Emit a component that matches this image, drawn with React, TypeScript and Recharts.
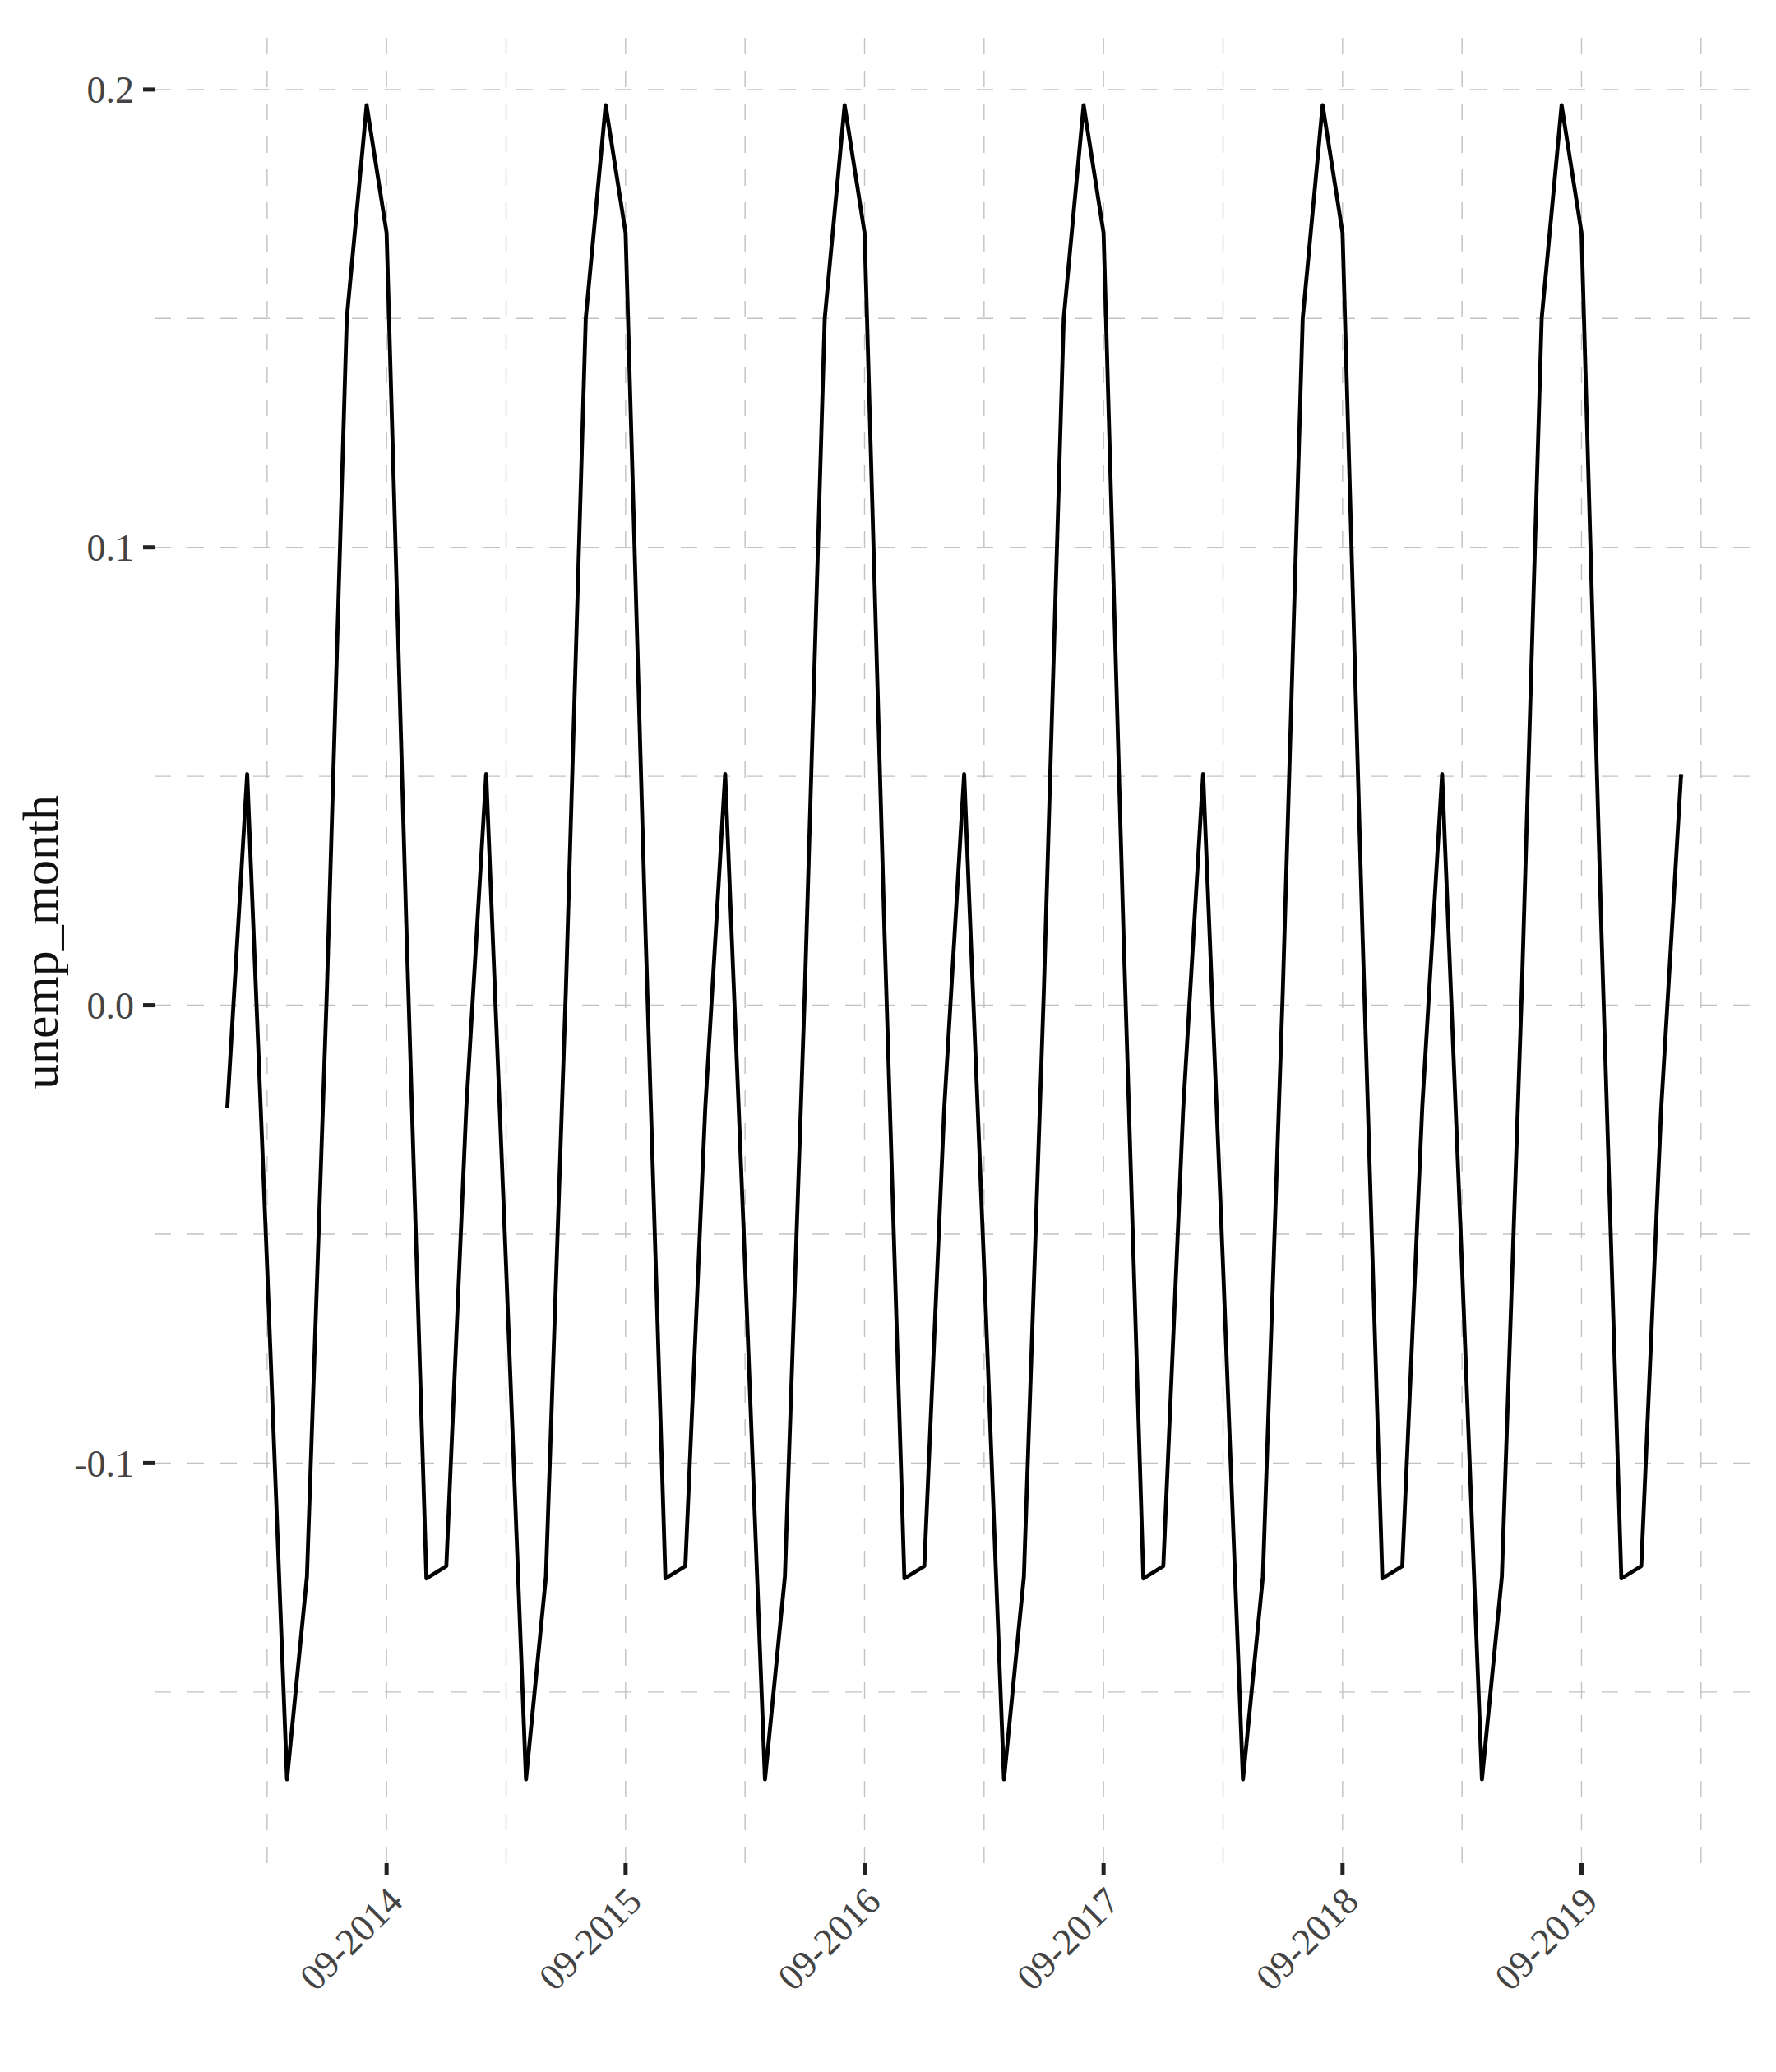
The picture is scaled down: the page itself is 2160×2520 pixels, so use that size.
import React from 'react';
import { LineChart, Line, XAxis, YAxis, CartesianGrid } from 'recharts';

// monthly seasonal values, Jan..Dec
const months = ['01', '02', '03', '04', '05', '06', '07', '08', '09', '10', '11', '12'];
const years = [2014, 2015, 2016, 2017, 2018, 2019, 2020];

const unemp2014 = [-0.0225, 0.0505, -0.057, -0.1691, -0.1248, 0.003, 0.15, 0.1966, 0.1687, 0.016, -0.1252, -0.1225];
const unemp2015 = [-0.0225, 0.0505, -0.057, -0.1691, -0.1248, 0.003, 0.15, 0.1966, 0.1687, 0.016, -0.1252, -0.1225];
const unemp2016 = [-0.0225, 0.0505, -0.057, -0.1691, -0.1248, 0.003, 0.15, 0.1966, 0.1687, 0.016, -0.1252, -0.1225];
const unemp2017 = [-0.0225, 0.0505, -0.057, -0.1691, -0.1248, 0.003, 0.15, 0.1966, 0.1687, 0.016, -0.1252, -0.1225];
const unemp2018 = [-0.0225, 0.0505, -0.057, -0.1691, -0.1248, 0.003, 0.15, 0.1966, 0.1687, 0.016, -0.1252, -0.1225];
const unemp2019 = [-0.0225, 0.0505, -0.057, -0.1691, -0.1248, 0.003, 0.15, 0.1966, 0.1687, 0.016, -0.1252, -0.1225];
const unemp2020 = [-0.0225, 0.0505];

const xTickLabels = ['09-2014', '09-2015', '09-2016', '09-2017', '09-2018', '09-2019'];
const xMinorLabels = ['03-2014', '03-2015', '03-2016', '03-2017', '03-2018', '03-2019', '03-2020'];
const yTicks = [0.2, 0.1, 0.0, -0.1];
const yMinorTicks = [0.15, 0.05, -0.05, -0.15];

const seriesByYear = [unemp2014, unemp2015, unemp2016, unemp2017, unemp2018, unemp2019, unemp2020];

// month label -> running month index from 01-2014
const monthIndex = (label: string) => {
  const [mm, yyyy] = label.split('-');
  return (Number(yyyy) - years[0]) * 12 + Number(mm) - 1;
};

const data = seriesByYear.flatMap((vals, i) =>
  vals.map((v, m) => {
    const label = `${months[m]}-${years[i]}`;
    return { label, idx: monthIndex(label), unemp_month: v };
  })
);

// ggplot style 5% expansion on both axes
const expand = (lo: number, hi: number): [number, number] => {
  const pad = (hi - lo) * 0.05;
  return [lo - pad, hi + pad];
};
const xDomain = expand(data[0].idx, data[data.length - 1].idx);
const yVals = data.map((d) => d.unemp_month);
const yDomain = expand(Math.min(...yVals), Math.max(...yVals));

const FONT = '"Liberation Serif", "DejaVu Serif", serif';
const GRID = '#c2c2c2';

const labelOf = (idx: number) => {
  const m = ((idx % 12) + 12) % 12;
  return `${months[m]}-${years[0] + Math.floor(idx / 12)}`;
};

const XTick = ({ x, y, payload }: any) => (
  <g transform={`translate(${x + 22},${y + 35})`}>
    <text textAnchor="end" transform="rotate(-45)" fontFamily={FONT} fontSize={46} fill="#444">
      {labelOf(payload.value)}
    </text>
  </g>
);

const YTitle = (props: any) => {
  const vb = props.viewBox || { x: 0, y: 26, width: 188, height: 2240 };
  const cy = vb.y + vb.height / 2;
  return (
    <text transform={`translate(70,${cy}) rotate(-90)`} textAnchor="middle" fontFamily={FONT} fontSize={62} fill="#111">
      unemp_month
    </text>
  );
};

// horizontal gridlines go left->right, vertical ones bottom->top (dash phase as in ggplot)
const hLine = (p: any) => (
  <line key={`h-${p.index}-${p.y1}`} x1={p.x1} y1={p.y1} x2={p.x2} y2={p.y2} stroke={GRID} strokeWidth={1.4} strokeDasharray="20 20" fill="none" />
);
const vLine = (p: any) => (
  <line key={`v-${p.index}-${p.x1}`} x1={p.x1} y1={Math.max(p.y1, p.y2)} x2={p.x2} y2={Math.min(p.y1, p.y2)} stroke={GRID} strokeWidth={1.4} strokeDasharray="20 20" fill="none" />
);

const App: React.FC = () => {
  const xMajor = xTickLabels.map(monthIndex);
  const xGrid = [...xMinorLabels.map(monthIndex), ...xMajor];
  const yGrid = [...yTicks, ...yMinorTicks];

  return (
    <div style={{ position: 'absolute', left: 0, top: 0, width: 2160, height: 2520, background: '#fff' }}>
      <LineChart width={2160} height={2520} data={data} margin={{ top: 26, right: 27, bottom: 0, left: 0 }}>
        <CartesianGrid
          horizontalValues={yGrid}
          verticalValues={xGrid}
          horizontal={hLine}
          vertical={vLine}
        />
        <XAxis
          type="number"
          dataKey="idx"
          domain={xDomain}
          ticks={xMajor}
          interval={0}
          height={254}
          axisLine={false}
          tickSize={14}
          tickMargin={0}
          tickLine={{ stroke: '#222', strokeWidth: 5 }}
          tick={<XTick />}
        />
        <YAxis
          type="number"
          domain={yDomain}
          ticks={yTicks}
          interval={0}
          width={188}
          axisLine={false}
          tickSize={14}
          tickMargin={11}
          tickLine={{ stroke: '#222', strokeWidth: 5 }}
          tickFormatter={(v: number) => v.toFixed(1)}
          tick={{ fontFamily: FONT, fontSize: 46, fill: '#444' }}
          label={{ content: YTitle }}
        />
        <Line
          type="linear"
          dataKey="unemp_month"
          stroke="#000"
          strokeWidth={4.8}
          strokeLinejoin="round"
          dot={false}
          activeDot={false}
          isAnimationActive={false}
        />
      </LineChart>
    </div>
  );
};

export default App;
